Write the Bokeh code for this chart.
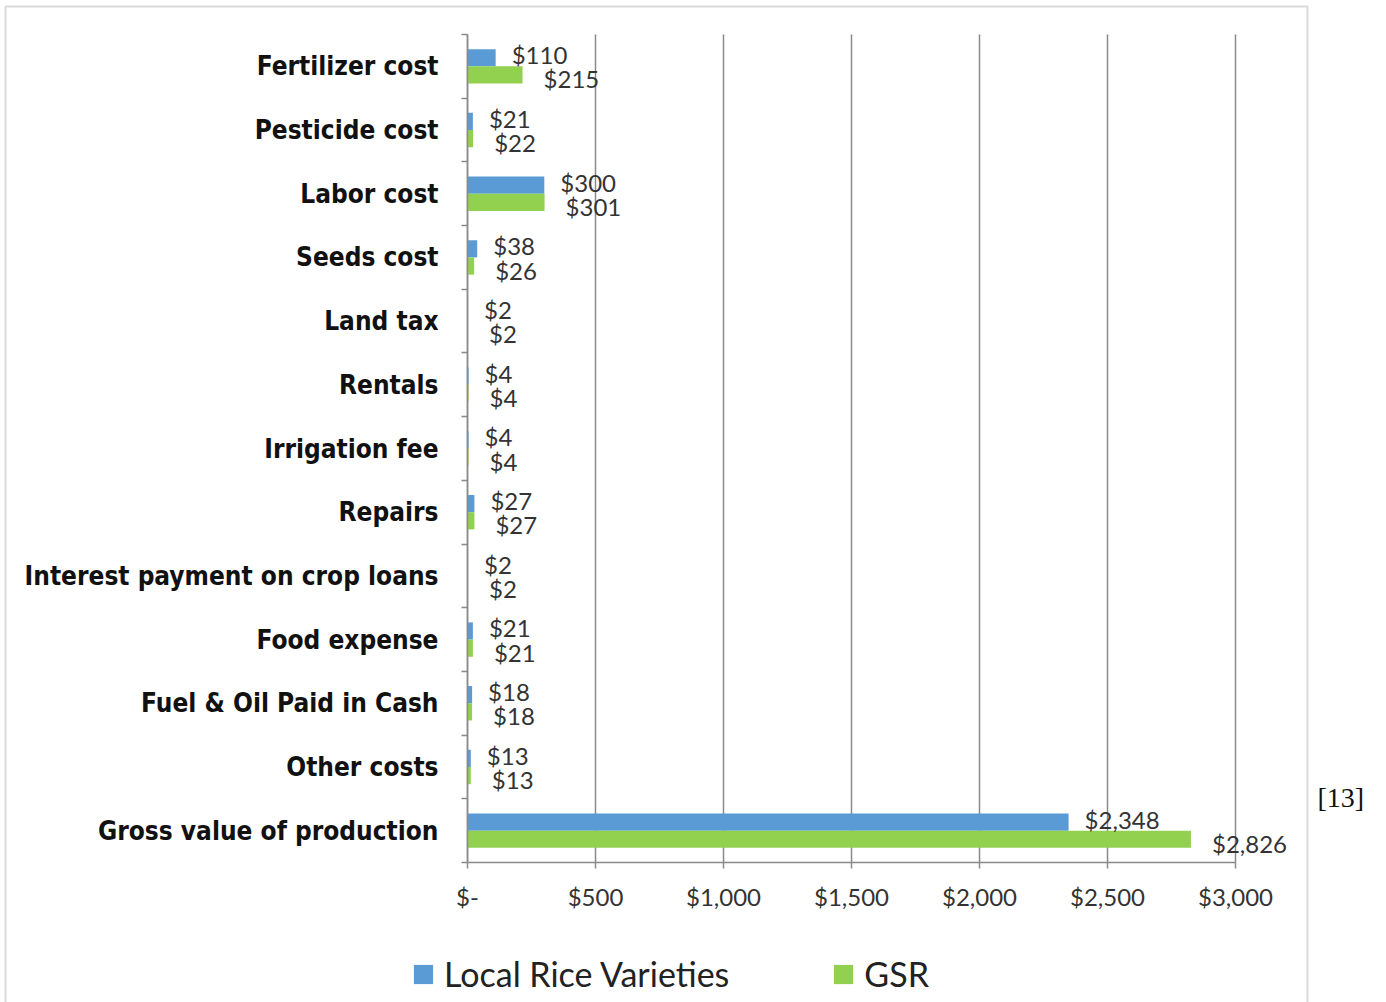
from bokeh.plotting import figure
from bokeh.models import (ColumnDataSource, Range1d, FixedTicker, Legend, LegendItem,
                          BoxAnnotation, Label)
from bokeh.embed import file_html
from bokeh.resources import INLINE
from bokeh.core.properties import value

# Per-acre costs and gross value, local rice varieties vs. GSR
categories = [
    "Fertilizer cost", "Pesticide cost", "Labor cost", "Seeds cost", "Land tax",
    "Rentals", "Irrigation fee", "Repairs", "Interest payment on crop loans",
    "Food expense", "Fuel & Oil Paid in Cash", "Other costs", "Gross value of production",
]
local_values = [110, 21, 300, 38, 2, 4, 4, 27, 2, 21, 18, 13, 2348]
gsr_values = [215, 22, 301, 26, 2, 4, 4, 27, 2, 21, 18, 13, 2826]
x_ticks = [0, 500, 1000, 1500, 2000, 2500, 3000]
x_tick_labels = ["$-", "$500", "$1,000", "$1,500", "$2,000", "$2,500", "$3,000"]

BLUE = "#5B9BD5"
GREEN = "#92D050"
GRID = "#8a8a8a"

W, H = 1386, 1002
# plot area in canvas pixels: value axis 0..3000, category bands top..bottom
AX_LEFT, AX_RIGHT, AX_TOP, AX_BOTTOM = 467, 1235, 34, 862
X_MAX = 3000

n = len(categories)
px_x = (AX_RIGHT - AX_LEFT) / X_MAX
px_y = (AX_BOTTOM - AX_TOP) / n
x_range = Range1d(-AX_LEFT / px_x, X_MAX + (W - AX_RIGHT) / px_x)
y_range = Range1d(-(H - AX_BOTTOM) / px_y, n + AX_TOP / px_y)

centers = [n - i - 0.5 for i in range(n)]  # first category on top
bar_h = 0.27
shift = 0.135


def money(v):
    return "${:,}".format(v)


local_src = ColumnDataSource(dict(
    y=[c + shift for c in centers], v=local_values,
    label=[money(v) for v in local_values]))
gsr_src = ColumnDataSource(dict(
    y=[c - shift for c in centers], v=gsr_values,
    label=[money(v) for v in gsr_values]))

p = figure(width=W, height=H, output_backend="svg", toolbar_location=None,
           x_range=x_range, y_range=y_range,
           min_border=0, min_border_left=0, min_border_right=0,
           min_border_top=0, min_border_bottom=0)
p.outline_line_color = None
p.background_fill_color = "white"
p.border_fill_color = "white"
p.grid.visible = False

# vertical gridlines across the category bands
p.segment(x0=x_ticks, y0=[0] * len(x_ticks), x1=x_ticks, y1=[n] * len(x_ticks),
          line_color=GRID, line_width=1.5)

r_local = p.hbar(y="y", left=0, right="v", height=bar_h, source=local_src,
                 fill_color=BLUE, line_color=None)
r_gsr = p.hbar(y="y", left=0, right="v", height=bar_h, source=gsr_src,
               fill_color=GREEN, line_color=None)

label_font = value("Lato")
p.text(x="v", y="y", text="label", source=local_src, x_offset=16, y_offset=-3,
       text_font=label_font, text_font_size="24px", text_color="#333333",
       text_baseline="middle", text_align="left")
p.text(x="v", y="y", text="label", source=gsr_src, x_offset=21, y_offset=4,
       text_font=label_font, text_font_size="24px", text_color="#333333",
       text_baseline="middle", text_align="left")

# x axis, drawn along y = 0
xa = p.xaxis[0]
xa.fixed_location = 0
xa.bounds = (0, X_MAX)
xa.ticker = FixedTicker(ticks=x_ticks)
xa.major_label_overrides = {t: s for t, s in zip(x_ticks, x_tick_labels)}
xa.axis_line_color = GRID
xa.axis_line_width = 1.5
xa.major_tick_line_color = GRID
xa.major_tick_line_width = 1.5
xa.major_tick_out = 6
xa.major_tick_in = 0
xa.minor_tick_line_color = None
xa.major_label_text_font = "Lato"
xa.major_label_text_font_size = "24px"
xa.major_label_text_color = "#333333"
xa.major_label_standoff = 13

# y axis along x = 0: labels at band centers, ticks on band boundaries
ya = p.yaxis[0]
ya.fixed_location = 0
ya.bounds = (0, n)
ya.ticker = FixedTicker(ticks=centers, minor_ticks=list(range(n + 1)))
ya.major_label_overrides = {c: name for c, name in zip(centers, categories)}
ya.axis_line_color = GRID
ya.axis_line_width = 1.5
ya.major_tick_line_color = None
ya.major_tick_out = 0
ya.major_tick_in = 0
ya.minor_tick_line_color = GRID
ya.minor_tick_line_width = 1.5
ya.minor_tick_out = 6
ya.minor_tick_in = 0
ya.major_label_text_font = "DejaVu Sans Condensed"
ya.major_label_text_font_style = "bold"
ya.major_label_text_font_size = "26px"
ya.major_label_text_color = "#111111"
ya.major_label_standoff = 23

legend = Legend(items=[LegendItem(label="Local Rice Varieties", renderers=[r_local]),
                       LegendItem(label="GSR", renderers=[r_gsr])],
                orientation="horizontal", location=(411, 8),
                glyph_width=24, glyph_height=24, label_standoff=9, spacing=102,
                padding=0, margin=0, border_line_color=None,
                background_fill_alpha=0,
                label_text_font="Lato", label_text_font_size="34px",
                label_text_color="#222222")
p.add_layout(legend, "center")

# chart border and reference mark
p.add_layout(BoxAnnotation(left=5, right=1307, top=6, bottom=1020,
                           left_units="canvas", right_units="canvas",
                           top_units="canvas", bottom_units="canvas",
                           fill_alpha=0, line_color="#858585", line_width=2))
p.add_layout(Label(x=1317, y=797, x_units="canvas", y_units="canvas", text="[13]",
                   text_font="Liberation Serif", text_font_size="28px",
                   text_color="#111111", text_baseline="middle"))

open("out.html", "w").write(file_html(p, INLINE))
